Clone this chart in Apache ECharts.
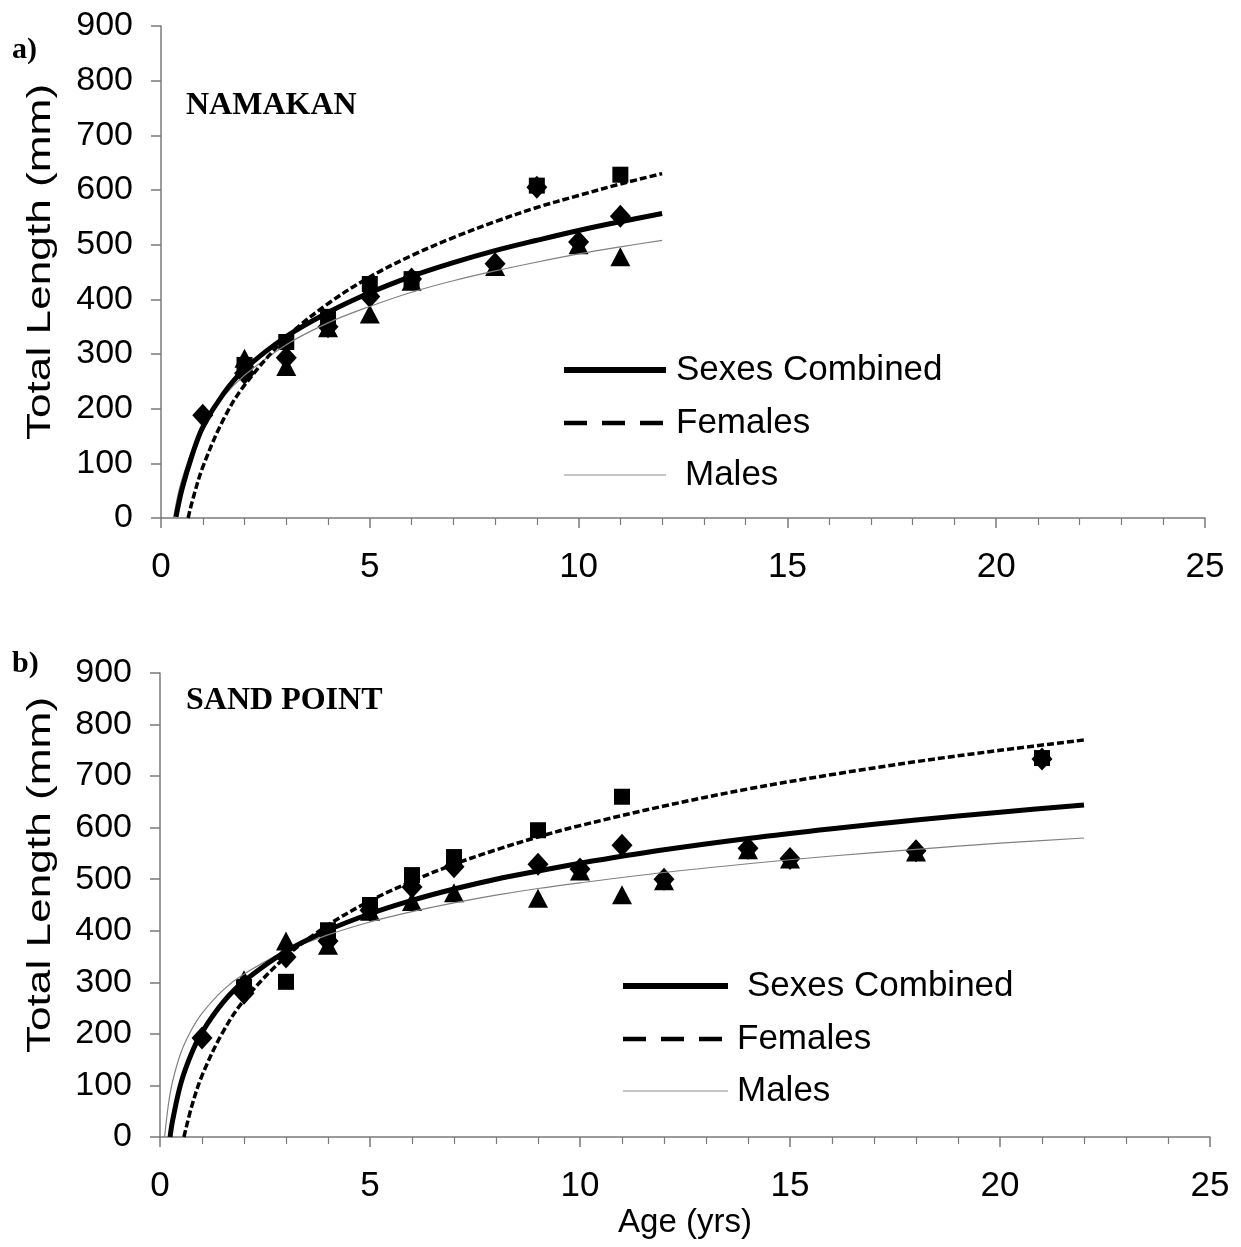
<!DOCTYPE html>
<html><head><meta charset="utf-8">
<script src="https://cdn.jsdelivr.net/npm/echarts@6/dist/echarts.min.js"></script>
<style>html,body{margin:0;padding:0;background:#fff}#c{width:1241px;height:1247px}</style>
</head><body><div id="c"></div>
<script>
// ---------- axis ticks ----------
const ageTicks = [0, 5, 10, 15, 20, 25];
const lengthTicks = [0, 100, 200, 300, 400, 500, 600, 700, 800, 900];

// ---------- a) NAMAKAN observed means ----------
const naCombAge = [1, 2, 3, 4, 5, 6, 8, 9, 10, 11];
const naCombLen = [188, 265, 293, 350, 405, 437, 465, 605, 505, 552];
const naFemAge = [2, 3, 4, 5, 6, 9, 11];
const naFemLen = [280, 322, 368, 428, 437, 608, 628];
const naMaleAge = [2, 3, 4, 5, 6, 8, 10, 11];
const naMaleLen = [292, 277, 348, 373, 433, 460, 500, 478];

// ---------- a) NAMAKAN fitted curves (read off the picture) ----------
const naCombFitAge = [0.36, 0.5, 0.75, 1, 1.5, 2, 3, 4, 5, 6, 7, 8, 9, 10, 11, 12];
const naCombFitLen = [2, 52, 116, 166, 228, 272, 332, 376, 412, 442, 467, 489, 508, 526, 542, 557];
const naFemFitAge = [0.65, 0.75, 1, 1.5, 2, 3, 4, 5, 6, 7, 8, 9, 10, 11, 12];
const naFemFitLen = [0, 31, 93, 181, 243, 330, 392, 441, 480, 513, 542, 568, 590, 611, 630];
const naMaleFitAge = [0.3, 0.4, 0.5, 0.75, 1, 1.5, 2, 3, 4, 5, 6, 7, 8, 9, 10, 11, 12];
const naMaleFitLen = [0, 40, 70, 126, 166, 222, 261, 317, 357, 387, 413, 434, 452, 468, 483, 496, 508];

// ---------- b) SAND POINT observed means ----------
const spCombAge = [1, 2, 3, 4, 5, 6, 7, 9, 10, 11, 12, 14, 15, 18, 21];
const spCombLen = [192, 279, 349, 380, 440, 485, 524, 529, 520, 566, 500, 560, 540, 555, 733];
const spFemAge = [2, 3, 4, 5, 6, 7, 9, 11, 21];
const spFemLen = [291, 301, 401, 450, 508, 543, 595, 660, 735];
const spMaleAge = [2, 3, 4, 5, 6, 7, 9, 10, 11, 12, 14, 15, 18];
const spMaleLen = [305, 380, 372, 438, 457, 474, 463, 516, 470, 497, 557, 539, 553];

// ---------- b) SAND POINT fitted curves (read off the picture) ----------
const spCombFitAge = [0.24, 0.3, 0.5, 0.75, 1, 1.5, 2, 3, 4, 5, 6, 7, 8, 9, 10, 12, 14, 16, 18, 20, 22];
const spCombFitLen = [0, 32, 105, 162, 203, 261, 302, 360, 401, 433, 459, 481, 500, 516, 531, 557, 579, 598, 615, 630, 644];
const spFemFitAge = [0.57, 0.75, 1, 1.5, 2, 3, 4, 5, 6, 7, 8, 9, 10, 12, 14, 16, 18, 20, 22];
const spFemFitLen = [0, 58, 119, 204, 265, 350, 411, 458, 496, 529, 557, 582, 604, 642, 675, 703, 728, 750, 770];
const spMaleFitAge = [0.11, 0.2, 0.3, 0.5, 0.75, 1, 1.5, 2, 3, 4, 5, 6, 7, 8, 9, 10, 12, 14, 16, 18, 20, 22];
const spMaleFitLen = [0, 63, 108, 164, 208, 240, 285, 316, 361, 392, 417, 437, 454, 469, 482, 493, 513, 530, 545, 558, 570, 580];

const seriesNames = ['Sexes Combined', 'Females', 'Males'];
const yTitle = 'Total Length (mm)';
const xTitle = 'Age (yrs)';

const zip = (xs, ys) => xs.map((x, i) => [x, ys[i]]);
const SANS = '"Liberation Sans", Arial, sans-serif';
const SERIF = '"Liberation Serif", "Times New Roman", serif';
const AX = '#7a7a7a';

function xAx(gi, name) {
  return {
    type: 'value', gridIndex: gi, min: ageTicks[0], max: ageTicks[ageTicks.length - 1],
    interval: ageTicks[1] - ageTicks[0],
    axisLine: { show: true, onZero: false, lineStyle: { color: AX, width: 1.5 } },
    axisTick: { show: true, inside: false, length: 10, lineStyle: { color: AX, width: 1.5 } },
    minorTick: { show: true, splitNumber: 5, length: 7, lineStyle: { color: AX, width: 1.2 } },
    splitLine: { show: false }, minorSplitLine: { show: false },
    axisLabel: { color: '#000', fontSize: 35, fontFamily: SANS, margin: 32 },
    name: name, nameLocation: 'middle', nameGap: 69,
    nameTextStyle: { color: '#000', fontSize: 33, fontFamily: SANS }
  };
}
function yAx(gi) {
  return {
    type: 'value', gridIndex: gi, min: lengthTicks[0], max: lengthTicks[lengthTicks.length - 1],
    interval: lengthTicks[1] - lengthTicks[0],
    axisLine: { show: true, onZero: false, lineStyle: { color: AX, width: 1.5 } },
    axisTick: { show: true, inside: false, length: 10, lineStyle: { color: AX, width: 1.5 } },
    splitLine: { show: false },
    axisLabel: { color: '#000', fontSize: 34, fontFamily: SANS, margin: 28 }
  };
}

function scatter(name, gi, ages, lens, symbol, size) {
  return {
    type: 'scatter', name: name, xAxisIndex: gi, yAxisIndex: gi,
    data: zip(ages, lens), symbol: symbol, symbolSize: size,
    itemStyle: { color: '#000', opacity: 1 }, z: 2, silent: true
  };
}
function curve(name, gi, ages, lens, style) {
  return {
    type: 'line', name: name, xAxisIndex: gi, yAxisIndex: gi,
    data: zip(ages, lens), showSymbol: false, symbol: 'none',
    smooth: 0.35, lineStyle: style, z: 3, silent: true, animation: false
  };
}
const combStyle = { color: '#000', width: 5, type: 'solid' };
const femStyle = { color: '#000', width: 3.5, type: [7, 3] };
const maleStyle = { color: '#808080', width: 1.2, type: 'solid' };

function legendGraphics(x1, x2, ys, textXs, names) {
  const styles = [
    { stroke: '#000', lineWidth: 6 },
    { stroke: '#000', lineWidth: 4.5, lineDash: [23, 15] },
    { stroke: '#8c8c8c', lineWidth: 1.2 }
  ];
  const out = [];
  ys.forEach((y, i) => {
    out.push({ type: 'line', shape: { x1: x1, y1: y, x2: x2, y2: y }, style: styles[i], silent: true });
    out.push({ type: 'text', x: textXs[i], y: y, style: { text: names[i], font: '35px ' + SANS, fill: '#000', verticalAlign: 'middle' }, silent: true });
  });
  return out;
}
function yTitleGraphic(cx, cy) {
  return {
    type: 'text', x: cx, y: cy, rotation: Math.PI / 2, scaleX: 1.3, silent: true,
    style: { text: yTitle, font: '34px ' + SANS, fill: '#000', align: 'center', verticalAlign: 'middle' }
  };
}

const option = {
  animation: false,
  backgroundColor: '#fff',
  grid: [
    { left: 161, right: 36, top: 26, height: 492, containLabel: false },
    { left: 160, right: 31, top: 673, height: 464, containLabel: false }
  ],
  xAxis: [xAx(0, ''), xAx(1, xTitle)],
  yAxis: [yAx(0), yAx(1)],
  title: [
    { text: 'a)', left: 12, top: 35, textStyle: { fontFamily: SERIF, fontWeight: 'bold', fontSize: 30, color: '#000' }, padding: 0 },
    { text: 'NAMAKAN', left: 186, top: 90, textStyle: { fontFamily: SERIF, fontWeight: 'bold', fontSize: 32, color: '#000' }, padding: 0 },
    { text: 'b)', left: 12, top: 649, textStyle: { fontFamily: SERIF, fontWeight: 'bold', fontSize: 30, color: '#000' }, padding: 0 },
    { text: 'SAND POINT', left: 186, top: 685, textStyle: { fontFamily: SERIF, fontWeight: 'bold', fontSize: 32, color: '#000' }, padding: 0 }
  ],
  graphic: [].concat(
    legendGraphics(564, 666, [370, 423, 475], [676, 676, 685], [seriesNames[0], seriesNames[1], seriesNames[2]]),
    legendGraphics(623, 728, [986, 1039, 1091], [747, 737, 737], [seriesNames[0], seriesNames[1], seriesNames[2]]),
    [yTitleGraphic(41, 262), yTitleGraphic(41, 875)]
  ),
  series: [
    scatter(seriesNames[0], 0, naCombAge, naCombLen, 'diamond', [21, 23]),
    scatter(seriesNames[1], 0, naFemAge, naFemLen, 'rect', 16),
    scatter(seriesNames[2], 0, naMaleAge, naMaleLen, 'triangle', [20, 19]),
    curve(seriesNames[2], 0, naMaleFitAge, naMaleFitLen, maleStyle),
    curve(seriesNames[0], 0, naCombFitAge, naCombFitLen, combStyle),
    curve(seriesNames[1], 0, naFemFitAge, naFemFitLen, femStyle),
    scatter(seriesNames[0], 1, spCombAge, spCombLen, 'diamond', [21, 23]),
    scatter(seriesNames[1], 1, spFemAge, spFemLen, 'rect', 16),
    scatter(seriesNames[2], 1, spMaleAge, spMaleLen, 'triangle', [20, 19]),
    curve(seriesNames[2], 1, spMaleFitAge, spMaleFitLen, maleStyle),
    curve(seriesNames[0], 1, spCombFitAge, spCombFitLen, combStyle),
    curve(seriesNames[1], 1, spFemFitAge, spFemFitLen, femStyle)
  ]
};
const chart = echarts.init(document.getElementById('c'), null, { renderer: 'canvas' });
chart.setOption(option);
</script>
</body></html>
